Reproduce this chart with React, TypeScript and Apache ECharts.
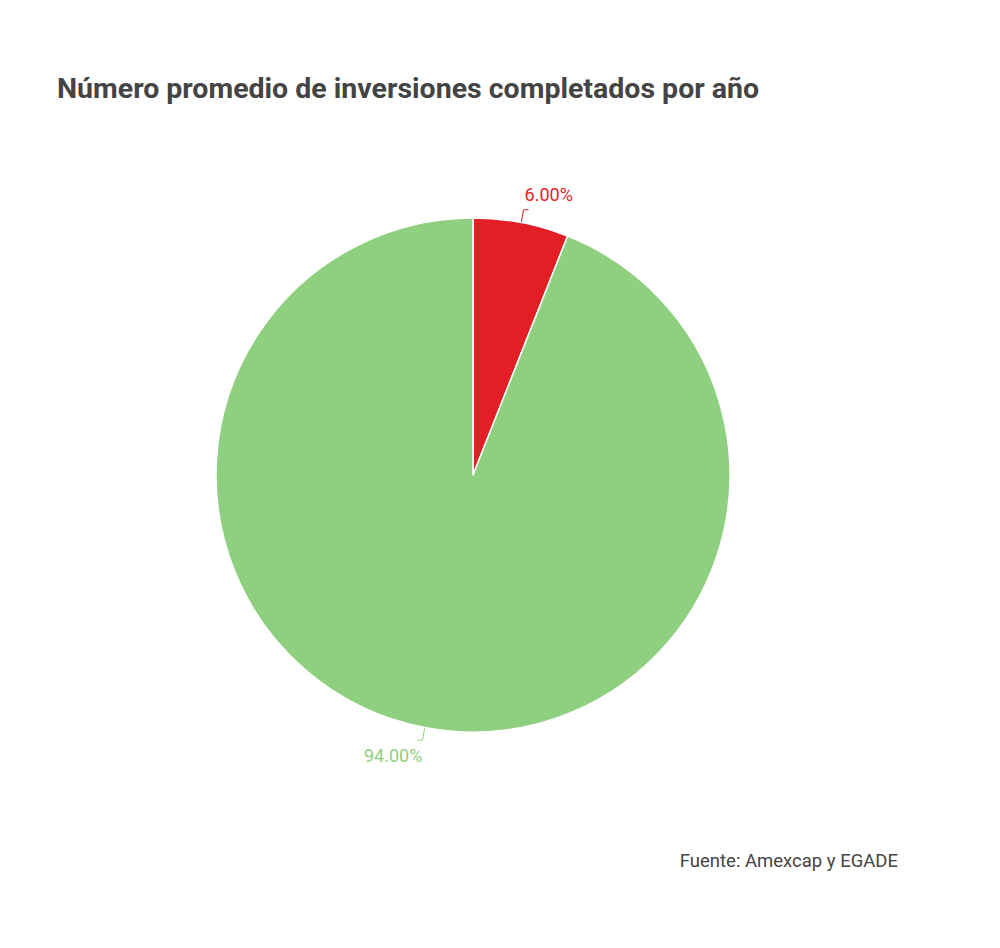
import React, { useEffect, useRef } from "react";
import * as echarts from "echarts";

const titleText = "Número promedio de inversiones completados por año";
const sourceText = "Fuente: Amexcap y EGADE";
const categories = ["Categoría 1", "Categoría 2"];
const values = [6.0, 94.0];
const colors = ["#E31E24", "#8FCF80"];
const labelShiftX = [-9, 10];
const labelShiftY = [-15, 15];

export default function App() {
  const ref = useRef<HTMLDivElement>(null);
  useEffect(() => {
    document.body.style.margin = "0";
    const chart = echarts.init(ref.current!, null, { renderer: "svg" });
    chart.setOption({
      animation: false,
      backgroundColor: "#ffffff",
      title: {
        text: titleText,
        left: 52,
        top: 69,
        textStyle: {
          fontFamily: "Roboto",
          fontSize: 28.5,
          fontWeight: "bold",
          color: "#444444",
        },
      },
      graphic: [
        {
          type: "text",
          right: 102,
          top: 851,
          style: {
            text: sourceText,
            fontFamily: "Roboto",
            fontSize: 18.5,
            fill: "#444444",
          },
        },
      ],
      series: [
        {
          type: "pie",
          center: [473, 475],
          radius: [0, 257],
          startAngle: 90,
          clockwise: true,
          data: categories.map((c, i) => ({
            name: c,
            value: values[i],
            itemStyle: { color: colors[i] },
            label: { color: colors[i] },
            labelLine: { lineStyle: { color: colors[i] } },
          })),
          itemStyle: { borderColor: "#ffffff", borderWidth: 1.5 },
          label: {
            show: true,
            position: "outside",
            fontFamily: "Roboto",
            fontSize: 18,
            formatter: (p: any) => p.value.toFixed(2) + "%",
          },
          labelLine: { show: true, length: 13, length2: 5, lineStyle: { width: 1 } },
          labelLayout: (p: any) => ({
            dx: labelShiftX[p.dataIndex],
            dy: labelShiftY[p.dataIndex],
          }),
          emphasis: { disabled: true },
        },
      ],
    });
    return () => chart.dispose();
  }, []);
  return (
    <div
      ref={ref}
      style={{ position: "absolute", left: 0, top: 0, width: 1000, height: 948 }}
    />
  );
}
